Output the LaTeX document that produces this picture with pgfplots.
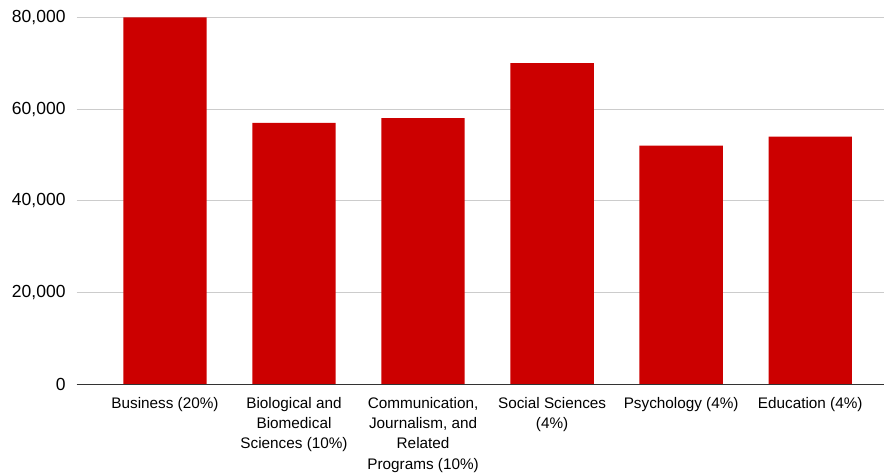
\documentclass[border=0pt]{standalone}
\usepackage{pgfplots}
\pgfplotsset{compat=1.18}
\usepackage{fontspec}
\setmainfont{Liberation Sans}
\definecolor{barred}{HTML}{CC0000}
\definecolor{gridgray}{HTML}{CCCCCC}
\definecolor{axisgray}{HTML}{333333}
\begin{document}
\begin{tikzpicture}[x=1bp,y=1bp]
\path[use as bounding box] (0,0) rectangle (884,474);
\begin{axis}[
  at={(76.7bp,89.7bp)}, anchor=south west,
  scale only axis,
  width=807.3bp, height=367bp,
  xmin=-0.684, xmax=5.572,
  ymin=0, ymax=80000,
  ytick={0,20000,40000,60000,80000},
  xtick={0,1,2,3,4,5},
  xticklabels={
    {Business (20\%)},
    {Biological and\\Biomedical\\Sciences (10\%)},
    {Communication,\\Journalism, and\\Related\\Programs (10\%)},
    {Social Sciences\\(4\%)},
    {Psychology (4\%)},
    {Education (4\%)}},
  axis line style={draw=none},
  axis x line*=bottom,
  axis y line*=left,
  tick style={draw=none},
  ymajorgrids,
  grid style={gridgray, line width=1bp},
  scaled y ticks=false,
  /pgf/number format/.cd, 1000 sep={,}, assume math mode=true,
  /pgfplots/.cd,
  yticklabel style={anchor=east, inner sep=0pt, xshift=-11bp,
    font=\fontsize{17.5bp}{21bp}\selectfont, text=black},
  xticklabel style={anchor=north, inner sep=0pt, yshift=-12.8bp,
    align=center, font=\fontsize{15.3bp}{20.3bp}\selectfont, text=black},
  clip=false,
]
\addplot[ybar, bar width=0.646, fill=barred, draw=none]
  coordinates {(0,80000) (1,57000) (2,58000) (3,70000) (4,52000) (5,54000)};
\draw[axisgray, line width=1.3bp] (axis cs:-0.684,0) -- (axis cs:5.572,0);
\end{axis}
\end{tikzpicture}
\end{document}
